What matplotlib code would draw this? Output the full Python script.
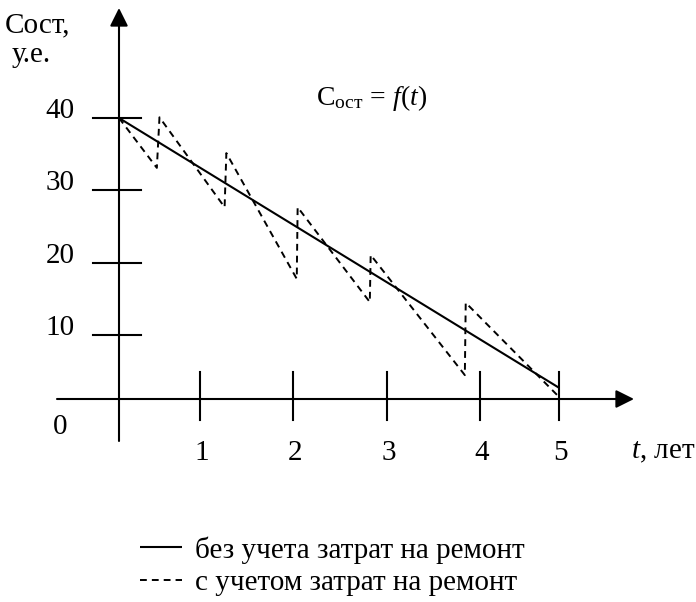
import matplotlib
matplotlib.use('Agg')
import matplotlib.pyplot as plt

plt.rcParams['font.family'] = ['Liberation Serif', 'DejaVu Serif']
plt.rcParams['mathtext.fontset'] = 'custom'
plt.rcParams['mathtext.rm'] = 'Liberation Serif'
plt.rcParams['mathtext.it'] = 'Liberation Serif:italic'

# ---------------- data ----------------
t_solid = [0.0, 5.0]
c_solid = [40.0, 1.6]

t_dashed = [0.0, 0.43, 0.46, 1.20, 1.22, 2.02, 2.03, 2.85, 2.86, 3.93, 3.94, 5.0]
c_dashed = [40.0, 32.9, 40.1, 27.3, 35.0, 17.1, 27.3, 13.8, 20.5, 3.4, 13.7, 0.3]

x_tick_pos = [0.92, 1.98, 3.05, 4.10, 5.0]
x_tick_labels = ['1', '2', '3', '4', '5']
y_tick_pos = [40.0, 29.75, 19.36, 9.11]
y_tick_labels = ['40', '30', '20', '10']

solid_label = 'без учета затрат на ремонт'
dashed_label = 'с учетом затрат на ремонт'

# ---------------- layout helpers (pixel -> data) ----------------
W, H = 696, 602
PX0, PX_PER_T = 119.0, 88.0
PY0, PX_PER_C = 399.0, 7.025


def t_of(px):
    return (px - PX0) / PX_PER_T


def c_of(py):
    return (PY0 - py) / PX_PER_C


fig = plt.figure(figsize=(W / 100, H / 100), dpi=100)
ax = fig.add_axes([0, 0, 1, 1])
ax.set_xlim(t_of(0), t_of(W))
ax.set_ylim(c_of(H), c_of(0))
ax.axis('off')

FS = 21
LW = 1.5

# axes with arrows
arrow = dict(arrowstyle='-|>,head_length=1.0,head_width=0.5', mutation_scale=11,
             lw=LW, color='black', fc='black', shrinkA=0, shrinkB=0)
ax.annotate('', xy=(t_of(634), 0), xytext=(t_of(57), 0), arrowprops=arrow)
ax.annotate('', xy=(0, c_of(8)), xytext=(0, c_of(441)), arrowprops=arrow)

# ticks
for tp, lab in zip(x_tick_pos, x_tick_labels):
    ax.plot([tp, tp], [c_of(372), c_of(420)], color='black', lw=LW)
    ax.text(tp + 0.02, c_of(453), lab, fontsize=FS, ha='center', va='center')
for cp, lab in zip(y_tick_pos, y_tick_labels):
    ax.plot([t_of(93), t_of(141)], [cp, cp], color='black', lw=LW)
    ax.text(t_of(60), cp + 1.0, lab, fontsize=FS, ha='center', va='center')

ax.text(t_of(60), c_of(427), '0', fontsize=FS, ha='center', va='center')
ax.text(t_of(631), c_of(452), r'$t$, лет', fontsize=FS, ha='left', va='center')
ax.text(t_of(5), c_of(25), 'Сост,', fontsize=FS, ha='left', va='center')
ax.text(t_of(12), c_of(55), 'у.е.', fontsize=FS, ha='left', va='center')
ax.text(t_of(372), c_of(98), r'$\mathrm{C}_{\mathrm{ост}}\,=\,f(t)$', fontsize=20,
        ha='center', va='center')

# series
l1, = ax.plot(t_solid, c_solid, color='black', lw=LW, solid_capstyle='butt')
l2, = ax.plot(t_dashed, c_dashed, color='black', lw=1.4, dashes=(3.5, 2.6))

leg = ax.legend([l1, l2], [solid_label, dashed_label], loc='upper left',
                bbox_to_anchor=(140 / W, 1 - 536 / H), bbox_transform=fig.transFigure,
                frameon=False, fontsize=FS, borderpad=0, borderaxespad=0,
                handlelength=1.45, handletextpad=0.45, labelspacing=0.2)

fig.savefig('out.png', dpi=100)
